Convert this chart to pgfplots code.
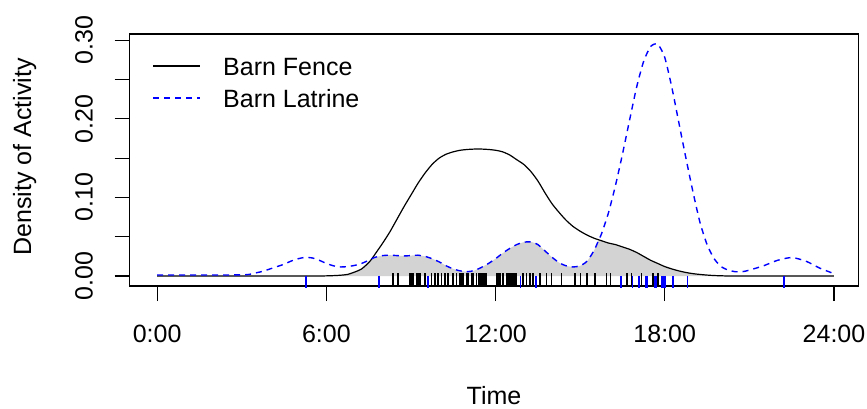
\documentclass[border=0pt]{standalone}
\usepackage{fontspec}
\setmainfont{Liberation Sans}
\usepackage{graphicx}
\usepackage{pgfplots}
\pgfplotsset{compat=1.18}
\usepackage{pgfplotstable}
\definecolor{shade}{RGB}{211,211,211}

\pgfplotstableread{
x f l m
0 0 0.0013 0
0.5 0 0.0013 0
1 0 0.0013 0
1.5 0 0.0013 0
2 0 0.0013 0
2.5 0 0.0013 0
3 0 0.0015 0
3.25 0 0.002 0
3.5 0 0.004 0
3.75 0 0.006 0
4 0 0.009 0
4.25 0 0.012 0
4.5 0 0.015 0
4.75 0 0.019 0
5 0 0.022 0
5.25 0 0.0237 0
5.5 0 0.023 0
5.75 0 0.020 0
6 0.0002 0.016 0.0002
6.25 0.0005 0.013 0.0005
6.5 0.001 0.0115 0.001
6.75 0.002 0.012 0.002
7 0.005 0.0135 0.005
7.25 0.009 0.016 0.009
7.5 0.017 0.020 0.017
7.62 0.0222 0.0222 0.0222
7.75 0.029 0.024 0.024
8 0.042 0.026 0.026
8.25 0.056 0.0265 0.0265
8.5 0.072 0.026 0.026
8.75 0.088 0.0255 0.0255
9 0.103 0.026 0.026
9.25 0.118 0.0265 0.0265
9.5 0.131 0.025 0.025
9.75 0.142 0.022 0.022
10 0.150 0.018 0.018
10.25 0.155 0.013 0.013
10.5 0.158 0.009 0.009
10.75 0.160 0.0065 0.0065
11 0.161 0.0055 0.0055
11.25 0.1615 0.007 0.007
11.5 0.1615 0.011 0.011
11.75 0.161 0.016 0.016
12 0.160 0.022 0.022
12.25 0.158 0.029 0.029
12.5 0.154 0.035 0.035
12.75 0.148 0.040 0.040
13 0.142 0.043 0.043
13.25 0.133 0.0435 0.0435
13.5 0.121 0.040 0.040
13.75 0.106 0.032 0.032
14 0.092 0.024 0.024
14.25 0.081 0.017 0.017
14.5 0.071 0.013 0.013
14.75 0.063 0.0115 0.0115
15 0.057 0.013 0.013
15.25 0.052 0.019 0.019
15.5 0.048 0.033 0.033
15.66 0.046 0.046 0.046
15.75 0.045 0.053 0.045
16 0.042 0.080 0.042
16.25 0.040 0.115 0.040
16.5 0.037 0.155 0.037
16.75 0.034 0.198 0.034
17 0.030 0.240 0.030
17.25 0.025 0.273 0.025
17.5 0.020 0.292 0.020
17.75 0.016 0.295 0.016
18 0.012 0.278 0.012
18.25 0.009 0.240 0.009
18.5 0.0065 0.195 0.0065
18.75 0.0045 0.150 0.0045
19 0.003 0.107 0.003
19.25 0.002 0.068 0.002
19.5 0.0012 0.040 0.0012
19.75 0.0006 0.022 0.0006
20 0.0003 0.012 0.0003
20.25 0 0.0075 0
20.5 0 0.0055 0
20.75 0 0.0055 0
21 0 0.0075 0
21.5 0 0.013 0
22 0 0.020 0
22.5 0 0.0235 0
23 0 0.019 0
23.5 0 0.010 0
24 0 0.003 0
}\dens

\pgfplotstableread{
x y
8.37 -0.0045
8.55 -0.0045
8.96 -0.0045
9.0 -0.0045
9.08 -0.0045
9.2 -0.0045
9.25 -0.0045
9.32 -0.0045
9.49 -0.0045
9.73 -0.0045
9.85 -0.0045
9.96 -0.0045
10.09 -0.0045
10.2 -0.0045
10.32 -0.0045
10.5 -0.0045
10.62 -0.0045
10.73 -0.0045
10.78 -0.0045
10.85 -0.0045
10.97 -0.0045
11.03 -0.0045
11.15 -0.0045
11.21 -0.0045
11.33 -0.0045
11.4 -0.0045
11.44 -0.0045
11.5 -0.0045
11.56 -0.0045
11.62 -0.0045
11.68 -0.0045
12.04 -0.0045
12.08 -0.0045
12.15 -0.0045
12.27 -0.0045
12.39 -0.0045
12.45 -0.0045
12.51 -0.0045
12.57 -0.0045
12.62 -0.0045
12.68 -0.0045
12.74 -0.0045
12.98 -0.0045
13.1 -0.0045
13.22 -0.0045
13.33 -0.0045
13.57 -0.0045
13.81 -0.0045
13.99 -0.0045
14.34 -0.0045
14.81 -0.0045
15.01 -0.0045
15.25 -0.0045
15.52 -0.0045
15.94 -0.0045
16.08 -0.0045
16.65 -0.0045
16.82 -0.0045
17.18 -0.0045
17.59 -0.0045
17.77 -0.0045
}\rugfence

\pgfplotstableread{
x y
5.27 -0.0076
7.86 -0.0076
9.61 -0.0076
12.89 -0.0076
13.43 -0.0076
16.44 -0.0076
16.86 -0.0076
17.08 -0.0076
17.33 -0.0076
17.39 -0.0076
17.65 -0.0076
17.71 -0.0076
17.89 -0.0076
17.94 -0.0076
18.0 -0.0076
18.3 -0.0076
18.81 -0.0076
22.22 -0.0076
}\ruglatrine

\begin{document}
\begin{tikzpicture}[x=1bp,y=1bp,font=\fontsize{25bp}{30bp}\selectfont]
\useasboundingbox (0,0) rectangle (867,408);
\begin{axis}[
  at={(129.5bp,122bp)}, anchor=south west,
  scale only axis, width=729bp, height=252bp,
  xmin=-0.98, xmax=24.87, ymin=-0.0127, ymax=0.3079,
  clip=false,
  axis line style={line width=1.2bp},
  tick style={line width=1.2bp, black},
  tick align=outside, tick pos=left,
  major tick length=15bp,
  xtick={0,6,12,18,24},
  xticklabels={0:00,6:00,12:00,18:00,24:00},
  ytick={0,0.1,0.2,0.3},
  yticklabels={\rotatebox{90}{0.00},\rotatebox{90}{0.10},\rotatebox{90}{0.20},\rotatebox{90}{0.30}},
  extra y ticks={0.05,0.15,0.25},
  extra y tick labels={},
  xticklabel style={anchor=base, yshift=-41bp, inner sep=0pt},
  yticklabel style={anchor=east, xshift=-21.5bp, inner sep=0pt},
]
\addplot[fill=shade, draw=none, smooth, tension=0.4] table[x=x, y=m] {\dens} -- cycle;
\addplot[black, line width=1.2bp, smooth, tension=0.4] table[x=x, y=f] {\dens};
\addplot[blue, line width=1.4bp, dash pattern=on 6bp off 5bp, smooth, tension=0.4] table[x=x, y=l] {\dens};
\addplot[only marks, mark=|, mark size=6.5bp, mark options={black, line width=1.6bp}] table[x=x, y=y] {\rugfence};
\addplot[only marks, mark=|, mark size=6bp, mark options={blue, line width=1.6bp}] table[x=x, y=y] {\ruglatrine};
\end{axis}
% legend
\draw[black, line width=1.2bp] (153,342) -- (200,342);
\node[anchor=west, inner sep=0pt] at (223,341) {Barn Fence};
\draw[blue, line width=1.4bp, dash pattern=on 6bp off 5bp] (153,310) -- (200,310);
\node[anchor=west, inner sep=0pt] at (223,309) {Barn Latrine};
% axis titles
\node[anchor=base, inner sep=0pt] at (494,4) {Time};
\node[anchor=east, inner sep=0pt] at (36.5,251) {\rotatebox{90}{Density of Activity}};
\end{tikzpicture}
\end{document}
